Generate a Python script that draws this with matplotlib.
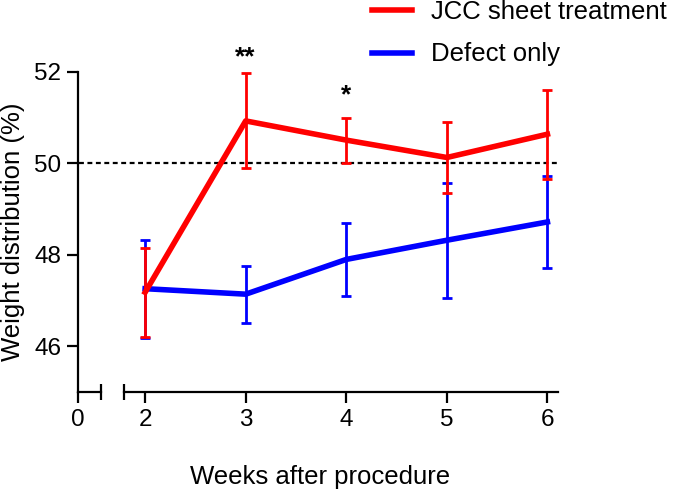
import matplotlib
matplotlib.use('Agg')
from matplotlib import pyplot as plt

plt.rcParams['font.family'] = ['Liberation Sans', 'DejaVu Sans']
plt.rcParams['font.size'] = 17.5

## 데이터
weeks = [2, 3, 4, 5, 6]
jcc_mean = [47.18, 50.93, 50.51, 50.13, 50.64]
jcc_err = [0.98, 1.04, 0.49, 0.77, 0.97]
defect_mean = [47.26, 47.14, 47.90, 48.32, 48.72]
defect_err = [1.07, 0.62, 0.79, 1.26, 1.00]
stars = ['', '**', '*', '', '']
star_y = [0, 52.33, 51.5, 0, 0]
yticks = [46, 48, 50, 52]

W, H = 685, 497
fig = plt.figure(figsize=(W / 100, H / 100), dpi=100)

def box(x0, x1, ytop, ybot):
    return [x0 / W, 1 - ybot / H, (x1 - x0) / W, (ybot - ytop) / H]

ax1 = fig.add_axes(box(78, 101, 72, 392))
ax2 = fig.add_axes(box(124, 558, 72, 392))

lw_axis = 1.6
for ax in (ax1, ax2):
    ax.set_ylim(45, 52)
    ax.spines['top'].set_visible(False)
    ax.spines['right'].set_visible(False)
    ax.spines['bottom'].set_linewidth(lw_axis)
    ax.spines['left'].set_linewidth(lw_axis)
    ax.tick_params(width=lw_axis, length=8, labelsize=17.5, pad=4)
    ax.patch.set_visible(False)

ax1.set_xlim(0, 0.23)
ax1.set_xticks([0])
ax1.set_yticks(yticks)
ax1.plot([0.23], [45], marker='|', markersize=12, mew=lw_axis, color='black', clip_on=False)

ax2.set_xlim(1.79, 6.105)
ax2.set_xticks(weeks)
ax2.spines['left'].set_visible(False)
ax2.set_yticks([])
ax2.plot([1.79], [45], marker='|', markersize=12, mew=lw_axis, color='black', clip_on=False)

## 50% 기준 점선 (끊긴 축 구간까지 이어짐)
ax2.axhline(50, xmin=(79 - 124) / (558 - 124), xmax=1, color='black',
            linestyle=(0, (2.2, 1.6)), linewidth=1.6, clip_on=False)

ax2.errorbar(weeks, defect_mean, yerr=defect_err, color='#0000FF', linewidth=0,
             elinewidth=2, capsize=3.5, capthick=2, clip_on=False)
ax2.plot(weeks, defect_mean, color='#0000FF', linewidth=4, label='Defect only', clip_on=False)
ax2.errorbar(weeks, jcc_mean, yerr=jcc_err, color='#FF0000', linewidth=0,
             elinewidth=2, capsize=3.5, capthick=2, clip_on=False)
ax2.plot(weeks, jcc_mean, color='#FF0000', linewidth=4, label='JCC sheet treatment', clip_on=False)

for w, s, sy in zip(weeks, stars, star_y):
    if s:
        ax2.text(w, sy, s, ha='center', va='center', fontsize=19, fontweight='bold', clip_on=False)

h, l = ax2.get_legend_handles_labels()
fig.legend(h[::-1], l[::-1], loc='upper left', bbox_to_anchor=(372 / W, 1.0),
           frameon=False, fontsize=18.5, handlelength=1.55, handletextpad=0.75,
           labelspacing=0.72, borderpad=0, borderaxespad=0)

fig.text(13 / W, 1 - 232 / H, 'Weight distribution (%)', rotation=90,
         ha='center', va='center', fontsize=18.5)
fig.text(320 / W, 1 - 477 / H, 'Weeks after procedure', ha='center', va='center', fontsize=18.5)

plt.savefig('out.png', dpi=100)
